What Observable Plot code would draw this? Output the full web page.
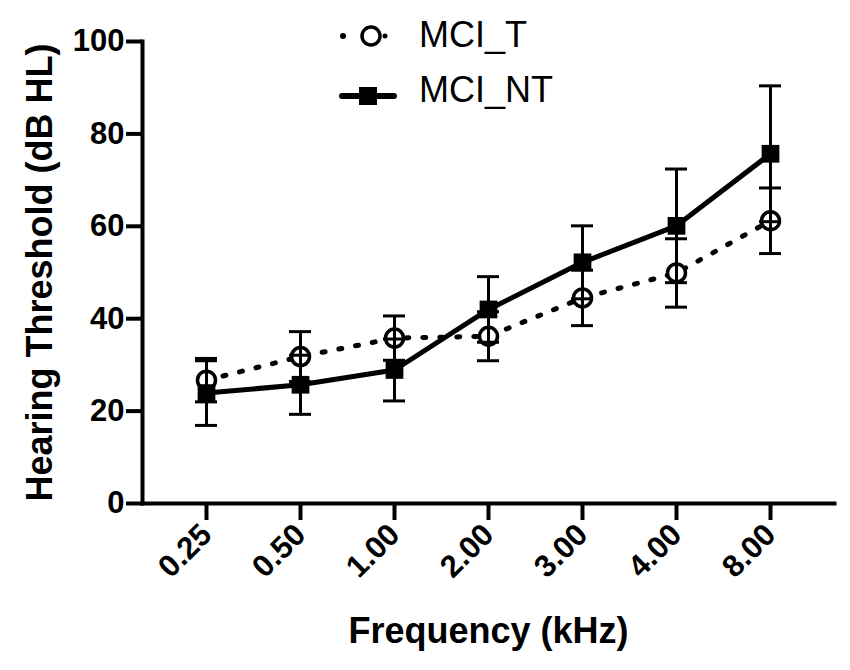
<!DOCTYPE html>
<html>
<head>
<meta charset="utf-8">
<script src="https://cdn.jsdelivr.net/npm/d3@7"></script>
<script src="https://cdn.jsdelivr.net/npm/@observablehq/plot@0.6"></script>
<style>
  html, body { margin: 0; padding: 0; background: white; }
  #wrap { position: relative; width: 850px; height: 670px; }
  #legend { position: absolute; left: 0; top: 0; pointer-events: none; }
</style>
</head>
<body>
<div id="wrap"></div>
<script>
const freqs   = ["0.25", "0.50", "1.00", "2.00", "3.00", "4.00", "8.00"];
const tMean   = [26.7, 31.8, 35.8, 36.2, 44.5, 49.9, 61.2];
const tSD     = [4.7, 5.4, 4.8, 5.3, 6.0, 7.4, 7.1];
const ntMean  = [23.9, 25.7, 28.9, 42.0, 52.2, 60.1, 75.7];
const ntSD    = [7.0, 6.4, 6.7, 7.1, 7.9, 12.3, 14.7];
const yTicks  = [0, 20, 40, 60, 80, 100];
const seriesNames = ["MCI_T", "MCI_NT"];
const xTitle = "Frequency (kHz)";
const yTitle = "Hearing Threshold (dB HL)";

const T  = freqs.map((f, i) => ({freq: f, mean: tMean[i],  lo: tMean[i]  - tSD[i],  hi: tMean[i]  + tSD[i]}));
const NT = freqs.map((f, i) => ({freq: f, mean: ntMean[i], lo: ntMean[i] - ntSD[i], hi: ntMean[i] + ntSD[i]}));
const all = T.concat(NT);

const font = "'Liberation Sans', Arial, sans-serif";

const chart = Plot.plot({
  width: 850,
  height: 670,
  marginLeft: 142,
  marginRight: 16,
  marginTop: 41,
  marginBottom: 167,
  style: {fontFamily: font, background: "white", color: "black", overflow: "visible"},
  x: {type: "band", domain: freqs, paddingInner: 0.7655, paddingOuter: 0.55, align: 0.5},
  y: {domain: [0, 100]},
  marks: [
    Plot.frame({anchor: "left", stroke: "black", strokeWidth: 4}),
    Plot.frame({anchor: "bottom", stroke: "black", strokeWidth: 4}),
    Plot.axisY({ticks: yTicks, tickSize: 16, tickPadding: 2, strokeWidth: 4, fontSize: 31, fontWeight: "bold", label: null}),
    Plot.axisX({tickSize: 17, tickPadding: 9, tickRotate: -45, strokeWidth: 4, fontSize: 31, fontWeight: "bold", label: null}),
    Plot.text([yTitle], {frameAnchor: "left", dx: -102, rotate: -90, textAnchor: "middle", fontSize: 36, fontWeight: "bold", fill: "black"}),
    Plot.text([xTitle], {frameAnchor: "bottom", dy: 139, fontSize: 36, fontWeight: "bold", fill: "black"}),
    Plot.lineY(NT, {x: "freq", y: "mean", stroke: "black", strokeWidth: 5}),
    Plot.lineY(T, {x: "freq", y: "mean", stroke: "black", strokeWidth: 5, strokeDasharray: "3,14", strokeLinecap: "round"}),
    Plot.dot(T, {x: "freq", y: "mean", r: 9, stroke: "black", strokeWidth: 3.5, fill: "white"}),
    Plot.dot(NT, {x: "freq", y: "mean", r: 10, symbol: "square", fill: "black", stroke: "none"}),
    Plot.ruleX(all, {x: "freq", y1: "lo", y2: "hi", stroke: "black", strokeWidth: 3}),
    Plot.tickY(all, {x: "freq", y: "lo", stroke: "black", strokeWidth: 3}),
    Plot.tickY(all, {x: "freq", y: "hi", stroke: "black", strokeWidth: 3})
  ]
});
document.getElementById("wrap").appendChild(chart);

// Legend overlay
const leg = d3.select("#wrap").append("svg")
  .attr("id", "legend").attr("width", 850).attr("height", 670);
const g1 = leg.append("g");
g1.append("circle").attr("cx", 343).attr("cy", 36).attr("r", 3).attr("fill", "black");
g1.append("circle").attr("cx", 385).attr("cy", 36).attr("r", 2.5).attr("fill", "black");
g1.append("circle").attr("cx", 371).attr("cy", 36).attr("r", 9).attr("fill", "white").attr("stroke", "black").attr("stroke-width", 3.5);
g1.append("text").attr("x", 419).attr("y", 47).attr("font-family", font).attr("font-size", 36).attr("fill", "black").text(seriesNames[0]);
const g2 = leg.append("g");
g2.append("line").attr("x1", 342).attr("x2", 394).attr("y1", 96).attr("y2", 96).attr("stroke", "black").attr("stroke-width", 6).attr("stroke-linecap", "round");
g2.append("rect").attr("x", 359).attr("y", 87).attr("width", 18).attr("height", 18).attr("fill", "black");
g2.append("text").attr("x", 419).attr("y", 102).attr("font-family", font).attr("font-size", 36).attr("fill", "black").text(seriesNames[1]);
</script>
</body>
</html>
